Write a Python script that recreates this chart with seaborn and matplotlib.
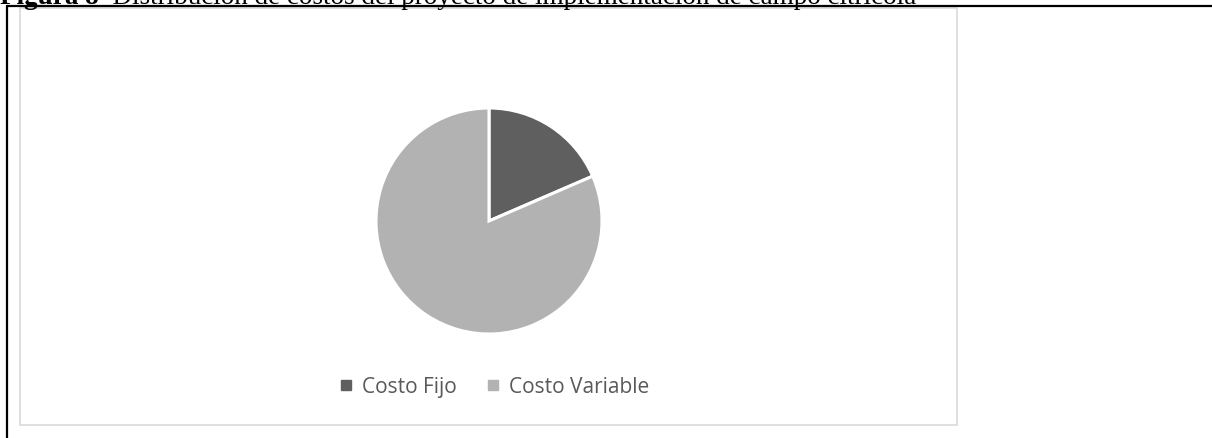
import matplotlib
matplotlib.use("Agg")
import matplotlib.pyplot as plt
import seaborn as sns
from matplotlib.patches import Rectangle
from matplotlib.lines import Line2D

categories = ["Costo Fijo", "Costo Variable"]
values = [18.5, 81.5]
colors = ["#5f5f5f", "#b2b2b2"]
title_bold = "Figura 8"
title_rest = "  Distribución de costos del proyecto de implementación de campo citrícola"

sns.set_theme(style="white")
plt.rcParams["font.family"] = ["Open Sans", "DejaVu Sans"]

W, H = 1212, 439
fig = plt.figure(figsize=(W / 100, H / 100), dpi=100)
fig.patch.set_facecolor("white")

def fx(px):
    return px / W

def fy(py):
    return 1 - py / H

# chart box
fig.patches.append(Rectangle((fx(20), fy(426)), fx(957) - fx(20), fy(9) - fy(426),
                             transform=fig.transFigure, facecolor="none",
                             edgecolor="#d9d9d9", linewidth=1.2, zorder=-1))
# page lines
fig.lines.append(Line2D([fx(7), 1.0], [fy(7), fy(7)], transform=fig.transFigure,
                        color="black", linewidth=1.6))
fig.lines.append(Line2D([fx(7), fx(7)], [fy(7), 0.0], transform=fig.transFigure,
                        color="black", linewidth=1.6))

# title (cut at the top)
t1 = fig.text(0.0, fy(4.5), title_bold, fontsize=19.5, fontweight="bold",
              family=["Liberation Serif"], va="baseline", ha="left", color="black")
fig.canvas.draw()
bb = t1.get_window_extent()
fig.text(bb.x1 / W, fy(4.5), title_rest, fontsize=19.5, family=["Liberation Serif"],
         va="baseline", ha="left", color="black")

# pie
cx, cy, r = 489, 222, 113
ax = fig.add_axes([fx(cx - r), fy(cy + r), 2 * r / W, 2 * r / H])
wedges, _ = ax.pie(values, colors=colors, startangle=90, counterclock=False,
                   radius=1, wedgeprops=dict(edgecolor="white", linewidth=2.2))
ax.set_xlim(-1, 1)
ax.set_ylim(-1, 1)
ax.set_aspect("equal")
ax.axis("off")

handles = [Line2D([0], [0], marker="s", linestyle="", markersize=6.5,
                  markerfacecolor=c, markeredgecolor=c) for c in colors]
fig.legend(handles, categories, loc="center", ncol=2,
           bbox_to_anchor=(fx(494), fy(388)), frameon=False,
           prop={"family": ["Open Sans"], "size": 15}, labelcolor="#595959",
           handlelength=0.7, handletextpad=0.4, columnspacing=1.4)

fig.savefig("out.png", dpi=100, facecolor="white")
